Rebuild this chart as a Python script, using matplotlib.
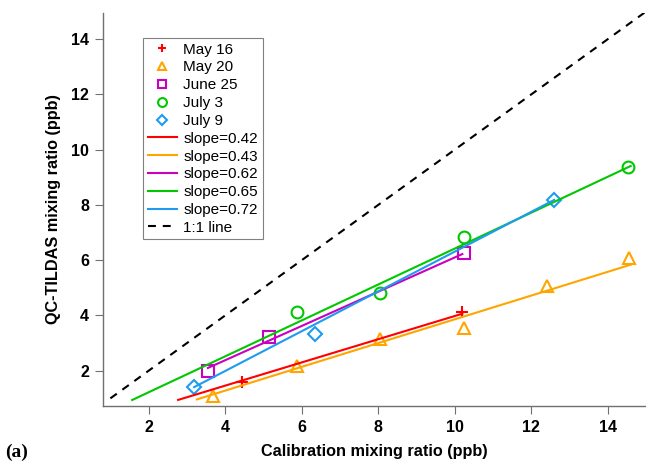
import numpy as np
import matplotlib
matplotlib.use("Agg")
import matplotlib.pyplot as plt

# calibration (x) vs QC-TILDAS (y) points
may16_x = [4.44, 10.2]
may16_y = [1.6, 4.13]
may20_x = [3.68, 5.87, 8.04, 10.23, 12.4, 14.55]
may20_y = [1.1, 2.17, 3.15, 3.55, 5.05, 6.08]
jun25_x = [3.55, 5.14, 10.23]
jun25_y = [2.0, 3.23, 6.27]
jul3_x = [5.87, 8.04, 10.23, 14.54]
jul3_y = [4.13, 4.83, 6.85, 9.37]
jul9_x = [3.19, 6.34, 12.6]
jul9_y = [1.41, 3.33, 8.17]

# fitted lines: slope, intercept and the x span drawn
fit_labels = ["slope=0.42", "slope=0.43", "slope=0.62", "slope=0.65", "slope=0.72"]
fit_slopes = [0.42, 0.43, 0.62, 0.65, 0.72]
fit_icepts = [-0.22, -0.44, -0.1, -0.08, -0.89]
fit_x0 = [2.77, 3.26, 3.55, 1.57, 3.19]
fit_x1 = [10.2, 14.6, 10.2, 14.6, 12.6]

colors = ["#ff0000", "#ffa500", "#c800c0", "#00c800", "#1e9bf0"]

plt.rcParams["font.family"] = ["Liberation Sans", "DejaVu Sans"]

fig = plt.figure(figsize=(6.46, 4.62), dpi=100)
ax = fig.add_axes([0.159, 0.121, 0.841, 0.851])

mk = dict(linestyle="none", markerfacecolor="none", markersize=8.5, markeredgewidth=1.5)
ax.plot(may16_x, may16_y, marker="+", color=colors[0], label="May 16", **mk)
ax.plot(may20_x, may20_y, marker="^", color=colors[1], label="May 20", **mk)
ax.plot(jun25_x, jun25_y, marker="s", color=colors[2], label="June 25", **mk)
ax.plot(jul3_x, jul3_y, marker="o", color=colors[3], label="July 3", **mk)
ax.plot(jul9_x, jul9_y, marker="D", color=colors[4], label="July 9",
        **{**mk, "markersize": 7})

for lab, s, b, x0, x1, c in zip(fit_labels, fit_slopes, fit_icepts, fit_x0, fit_x1, colors):
    xs = np.array([x0, x1])
    ax.plot(xs, s * xs + b, color=c, lw=1.5, label=lab)

ax.plot([1.0, 15.0], [1.0, 15.0], color="black", lw=1.5, dashes=(3.8, 3.3), label="1:1 line")

ax.set_xlim(0.8, 15.0)
ax.set_ylim(0.72, 14.95)
ax.set_xticks([2, 4, 6, 8, 10, 12, 14])
ax.set_yticks([2, 4, 6, 8, 10, 12, 14])

for side in ["top", "right"]:
    ax.spines[side].set_visible(False)
for side in ["left", "bottom"]:
    ax.spines[side].set_color("#707070")
    ax.spines[side].set_linewidth(1.0)
ax.tick_params(direction="out", length=5.8, width=0.8, color="#707070",
               labelsize=11.5, pad=4)
for t in ax.get_xticklabels() + ax.get_yticklabels():
    t.set_fontweight("bold")

ax.set_xlabel("Calibration mixing ratio (ppb)", fontsize=11.7, fontweight="bold", labelpad=7)
ax.set_ylabel("QC-TILDAS mixing ratio (ppb)", fontsize=11.7, fontweight="bold", labelpad=7)

fig.text(0.008, 0.01, "(a)", fontsize=14, fontweight="bold",
         family=["Liberation Serif", "DejaVu Serif"])

leg = ax.legend(loc="upper left", bbox_to_anchor=(143 / 646, 1 - 38 / 462),
                bbox_transform=fig.transFigure, fontsize=11, fancybox=False,
                framealpha=1, edgecolor="#808080", labelspacing=0.25,
                handlelength=1.9, handletextpad=0.45, borderpad=0.3,
                borderaxespad=0, markerscale=0.75)
leg.get_frame().set_linewidth(0.8)

fig.savefig("out.png", dpi=100)
